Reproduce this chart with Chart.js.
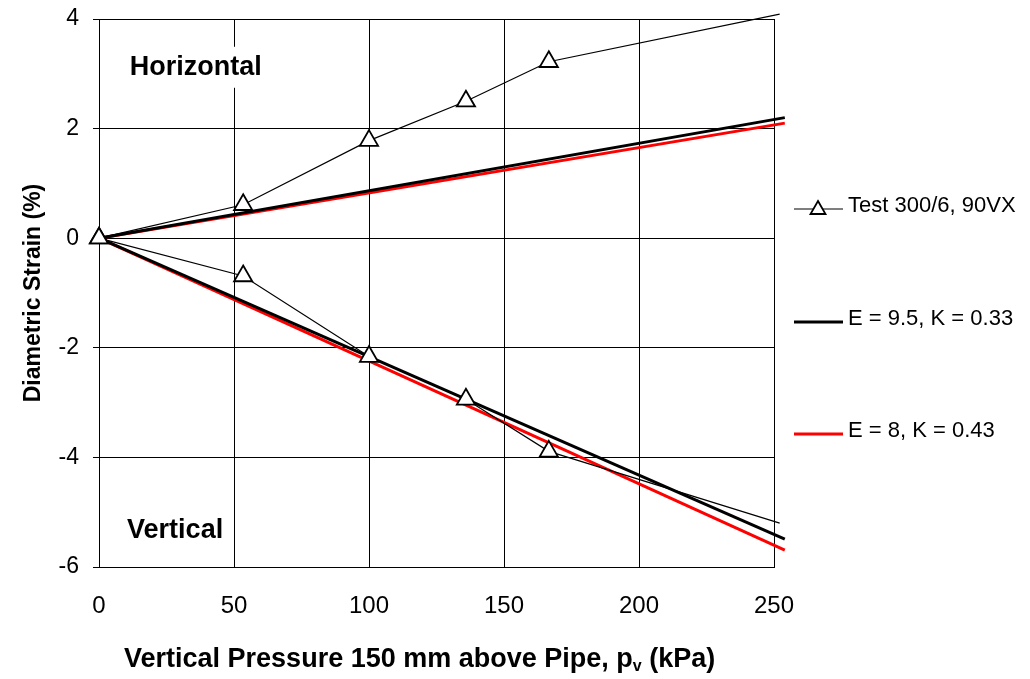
<!DOCTYPE html>
<html>
<head>
<meta charset="utf-8">
<script src="https://cdn.jsdelivr.net/npm/chart.js@4/dist/chart.umd.min.js"></script>
<style>
  body { margin: 0; background: #fff; }
  #wrap { width: 1030px; height: 679px; }
</style>
</head>
<body>
<div id="wrap"><canvas id="strain-chart" width="1030" height="679"></canvas></div>
<script>
const FONT = "Arial, 'Liberation Sans', sans-serif";

// test readings (pressure kPa, strain %)
const testPressure = [0, 53.4, 100, 135.9, 166.6, 252.1];
const testHorizontal = [0, 0.61, 1.78, 2.50, 3.22, 4.09];
const testVertical = [0, -0.69, -2.16, -2.94, -3.89, -5.20];

// model predictions
const modelPressure = [0, 254];
const e95Horizontal = [0, 2.20];
const e95Vertical = [0, -5.49];
const e8Horizontal = [0, 2.10];
const e8Vertical = [0, -5.69];

const xTicks = [0, 50, 100, 150, 200, 250];
const yTicks = [-6, -4, -2, 0, 2, 4];

const seriesLabels = ['Test 300/6, 90VX', 'E = 9.5, K = 0.33', 'E = 8, K = 0.43'];
const regionLabels = ['Horizontal', 'Vertical'];

function toPoints(xs, ys) {
  return xs.map((x, i) => ({ x: x, y: ys[i] }));
}

function testSet(label, ys) {
  return {
    label: label,
    data: toPoints(testPressure, ys),
    borderColor: '#000',
    borderWidth: 1.2,
    pointStyle: 'triangle',
    pointRadius: testPressure.map((x, i) => i === testPressure.length - 1 ? 0 : 10.5),
    pointBackgroundColor: '#fff',
    pointBorderColor: '#000',
    pointBorderWidth: 1.8,
    clip: false
  };
}

function modelSet(label, ys, color) {
  return {
    label: label,
    data: toPoints(modelPressure, ys),
    borderColor: color,
    borderWidth: 3,
    pointRadius: 0,
    clip: false
  };
}

// white-backed region captions
const regionPlugin = {
  id: 'regions',
  beforeDatasetsDraw(chart) {
    const ctx = chart.ctx;
    const xs = chart.scales.x, ys = chart.scales.y;
    const spots = [[11.4, 3.11], [10.4, -5.34]];
    ctx.save();
    ctx.font = 'bold 27px ' + FONT;
    ctx.textBaseline = 'middle';
    regionLabels.forEach((text, i) => {
      const px = xs.getPixelForValue(spots[i][0]);
      const py = ys.getPixelForValue(spots[i][1]);
      const w = ctx.measureText(text).width;
      ctx.fillStyle = '#fff';
      ctx.fillRect(px - 4, py - 21, w + 8, 41);
      ctx.fillStyle = '#000';
      ctx.fillText(text, px, py);
    });
    ctx.restore();
  }
};

// legend on the right + x axis title with subscript
const sidePlugin = {
  id: 'side',
  afterDraw(chart) {
    const ctx = chart.ctx;
    ctx.save();
    const rows = [
      { y: 209, color: '#000', width: 1.2, marker: true },
      { y: 322, color: '#000', width: 3, marker: false },
      { y: 434, color: '#f00', width: 3, marker: false }
    ];
    ctx.font = '22px ' + FONT;
    ctx.textBaseline = 'middle';
    rows.forEach((r, i) => {
      ctx.strokeStyle = r.color;
      ctx.lineWidth = r.width;
      ctx.beginPath();
      ctx.moveTo(794, r.y);
      ctx.lineTo(843, r.y);
      ctx.stroke();
      if (r.marker) {
        ctx.fillStyle = '#fff';
        ctx.strokeStyle = '#000';
        ctx.lineWidth = 1.8;
        ctx.beginPath();
        ctx.moveTo(818, r.y - 8);
        ctx.lineTo(818 + 7.5, r.y + 5);
        ctx.lineTo(818 - 7.5, r.y + 5);
        ctx.closePath();
        ctx.fill();
        ctx.stroke();
      }
      ctx.fillStyle = '#000';
      ctx.fillText(seriesLabels[i], 848, r.y - 3);
    });

    // x axis title
    ctx.textBaseline = 'alphabetic';
    ctx.fillStyle = '#000';
    ctx.font = 'bold 27px ' + FONT;
    let x = 124;
    const base = 667;
    const part1 = 'Vertical Pressure 150 mm above Pipe, p';
    ctx.fillText(part1, x, base);
    x += ctx.measureText(part1).width;
    ctx.font = 'bold 16px ' + FONT;
    ctx.fillText('v', x, base + 4);
    x += ctx.measureText('v').width;
    ctx.font = 'bold 27px ' + FONT;
    ctx.fillText(' (kPa)', x, base);
    ctx.restore();
  }
};

new Chart(document.getElementById('strain-chart'), {
  type: 'line',
  data: {
    datasets: [
      testSet(seriesLabels[0], testHorizontal),
      testSet(seriesLabels[0], testVertical),
      modelSet(seriesLabels[1], e95Horizontal, '#000'),
      modelSet(seriesLabels[1], e95Vertical, '#000'),
      modelSet(seriesLabels[2], e8Horizontal, '#f00'),
      modelSet(seriesLabels[2], e8Vertical, '#f00')
    ]
  },
  options: {
    responsive: false,
    animation: false,
    devicePixelRatio: 1,
    layout: { padding: { top: 19, right: 256, bottom: 0, left: 0 } },
    plugins: {
      legend: { display: false },
      tooltip: { enabled: false }
    },
    scales: {
      x: {
        type: 'linear',
        min: 0,
        max: 250,
        afterBuildTicks: scale => { scale.ticks = xTicks.map(v => ({ value: v })); },
        afterFit: scale => { scale.height = 112; scale.paddingLeft = 0; scale.paddingRight = 0; },
        grid: { color: '#000', lineWidth: 1, drawTicks: false },
        border: { color: '#000', width: 1 },
        ticks: { color: '#000', padding: 25, maxRotation: 0, font: { family: FONT, size: 24 } }
      },
      y: {
        type: 'linear',
        min: -6,
        max: 4,
        afterBuildTicks: scale => { scale.ticks = yTicks.map(v => ({ value: v })); },
        afterFit: scale => { scale.width = 99; scale.paddingTop = 0; scale.paddingBottom = 0; },
        grid: { color: '#000', lineWidth: 1, tickLength: 6 },
        border: { color: '#000', width: 1 },
        ticks: { color: '#000', padding: 14, font: { family: FONT, size: 23 } },
        title: {
          display: true,
          text: 'Diametric Strain (%)',
          color: '#000',
          padding: { top: 20, bottom: 0 },
          font: { family: FONT, size: 23, weight: 'bold' }
        }
      }
    }
  },
  plugins: [regionPlugin, sidePlugin]
});
</script>
</body>
</html>
